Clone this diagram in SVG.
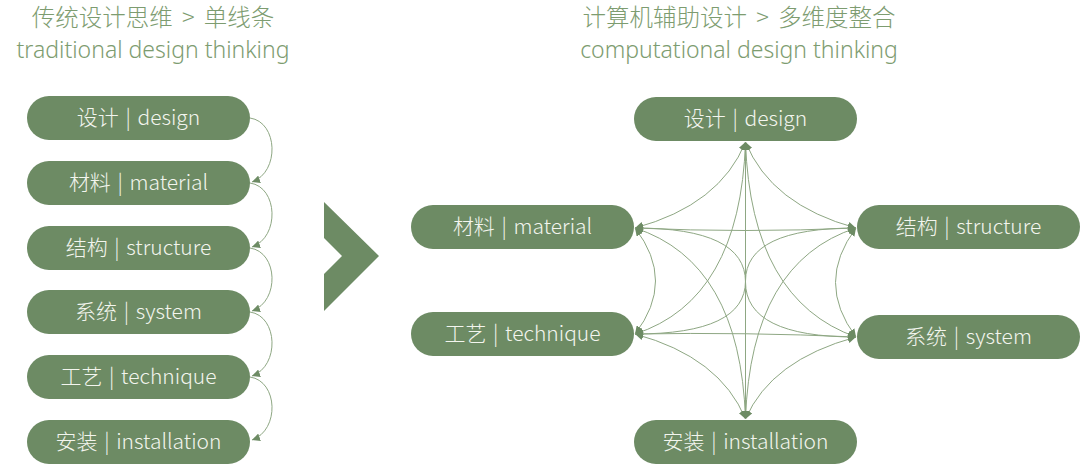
<svg xmlns="http://www.w3.org/2000/svg" width="1080" height="468" viewBox="0 0 1080 468">
  <style>
    .pill { fill: #6d8b64; }
    .lbl { fill: #f3f5ee; font-family: "Noto Sans CJK SC", "Noto Sans", sans-serif; font-size: 21px; font-weight: 300; text-anchor: middle; word-spacing: 2px; }
    .title { fill: #7d9c70; font-weight: 300; text-anchor: middle; }
    .zh { font-family: "Noto Sans CJK SC", "Noto Sans", sans-serif; font-size: 23.5px; word-spacing: 4px; }
    .en { font-family: "Noto Sans", "Noto Sans CJK SC", sans-serif; font-size: 23px; }
    .conn { fill: none; stroke: #8ea783; stroke-width: 1; }
  </style>
  <defs>
    <marker id="arr" viewBox="0 0 10 10" refX="10" refY="5" markerWidth="8" markerHeight="8" markerUnits="userSpaceOnUse" orient="auto-start-reverse">
      <path d="M0,0 L10,5 L0,10 Z" fill="#6d8b64"/>
    </marker>
  </defs>

  <rect width="1080" height="468" fill="#ffffff"/>

  <g id="titles">
    <text class="title zh" x="153" y="26">传统设计思维 &gt; 单线条</text>
    <text class="title en" x="153" y="58">traditional design thinking</text>
    <text class="title zh" x="739" y="26">计算机辅助设计 &gt; 多维度整合</text>
    <text class="title en" x="739" y="58">computational design thinking</text>
  </g>

  <g id="connectors">
    <!-- left chain -->
    <path class="conn" marker-end="url(#arr)" d="M250,118 C278,122 280,172 252,182"/>
    <path class="conn" marker-end="url(#arr)" d="M250,183 C278,187 280,237 252,247"/>
    <path class="conn" marker-end="url(#arr)" d="M250,248 C278,252 280,301 252,311"/>
    <path class="conn" marker-end="url(#arr)" d="M250,312 C278,316 280,366 252,376"/>
    <path class="conn" marker-end="url(#arr)" d="M250,377 C278,381 280,430 252,440"/>
    <!-- right network -->
    <path class="conn" marker-start="url(#arr)" marker-end="url(#arr)" d="M745.5,142 L745.5,419"/>
    <path class="conn" marker-start="url(#arr)" marker-end="url(#arr)" d="M635,228 Q745.5,233 856,228"/>
    <path class="conn" marker-start="url(#arr)" marker-end="url(#arr)" d="M635,334 Q745.5,332 856,337"/>
    <path class="conn" marker-start="url(#arr)" marker-end="url(#arr)" d="M635,228 Q676,281 635,334"/>
    <path class="conn" marker-start="url(#arr)" marker-end="url(#arr)" d="M856,228 Q815,282.5 856,337"/>
    <path class="conn" marker-start="url(#arr)" marker-end="url(#arr)" d="M745.5,142 Q720,205 635,228"/>
    <path class="conn" marker-start="url(#arr)" marker-end="url(#arr)" d="M745.5,142 Q771,205 856,228"/>
    <path class="conn" marker-start="url(#arr)" marker-end="url(#arr)" d="M745.5,419 Q720,357 635,334"/>
    <path class="conn" marker-start="url(#arr)" marker-end="url(#arr)" d="M745.5,419 Q771,360 856,337"/>
    <path class="conn" marker-start="url(#arr)" marker-end="url(#arr)" d="M745.5,142 Q740,300 635,334"/>
    <path class="conn" marker-start="url(#arr)" marker-end="url(#arr)" d="M745.5,142 Q751,300 856,337"/>
    <path class="conn" marker-start="url(#arr)" marker-end="url(#arr)" d="M745.5,419 Q740,262 635,228"/>
    <path class="conn" marker-start="url(#arr)" marker-end="url(#arr)" d="M745.5,419 Q751,262 856,228"/>
    <path class="conn" marker-start="url(#arr)" marker-end="url(#arr)" d="M635,228 Q745.5,228 745.5,282 Q745.5,337 856,337"/>
    <path class="conn" marker-start="url(#arr)" marker-end="url(#arr)" d="M635,334 Q745.5,334 745.5,281 Q745.5,228 856,228"/>
  </g>

  <g id="chevron">
    <polygon points="324,202 379,256 324,311 324,274 342,256 324,238" fill="#6d8b64"/>
  </g>

  <!-- left nodes -->
  <g id="l-design"><rect class="pill" x="27" y="96" width="223" height="44" rx="22"/><text class="lbl" x="138.5" y="125">设计 | design</text></g>
  <g id="l-material"><rect class="pill" x="27" y="161" width="223" height="44" rx="22"/><text class="lbl" x="138.5" y="190">材料 | material</text></g>
  <g id="l-structure"><rect class="pill" x="27" y="226" width="223" height="44" rx="22"/><text class="lbl" x="138.5" y="255">结构 | structure</text></g>
  <g id="l-system"><rect class="pill" x="27" y="290" width="223" height="44" rx="22"/><text class="lbl" x="138.5" y="319">系统 | system</text></g>
  <g id="l-technique"><rect class="pill" x="27" y="355" width="223" height="44" rx="22"/><text class="lbl" x="138.5" y="384">工艺 | technique</text></g>
  <g id="l-installation"><rect class="pill" x="27" y="420" width="223" height="44" rx="22"/><text class="lbl" x="138.5" y="449">安装 | installation</text></g>

  <!-- right nodes -->
  <g id="r-design"><rect class="pill" x="634" y="97" width="223" height="44" rx="22"/><text class="lbl" x="745.5" y="126">设计 | design</text></g>
  <g id="r-material"><rect class="pill" x="411" y="205" width="223" height="44" rx="22"/><text class="lbl" x="522.5" y="234">材料 | material</text></g>
  <g id="r-technique"><rect class="pill" x="411" y="312" width="223" height="44" rx="22"/><text class="lbl" x="522.5" y="341">工艺 | technique</text></g>
  <g id="r-structure"><rect class="pill" x="857" y="205" width="223" height="44" rx="22"/><text class="lbl" x="968.5" y="234">结构 | structure</text></g>
  <g id="r-system"><rect class="pill" x="857" y="315" width="223" height="44" rx="22"/><text class="lbl" x="968.5" y="344">系统 | system</text></g>
  <g id="r-installation"><rect class="pill" x="634" y="420" width="223" height="44" rx="22"/><text class="lbl" x="745.5" y="449">安装 | installation</text></g>
</svg>
